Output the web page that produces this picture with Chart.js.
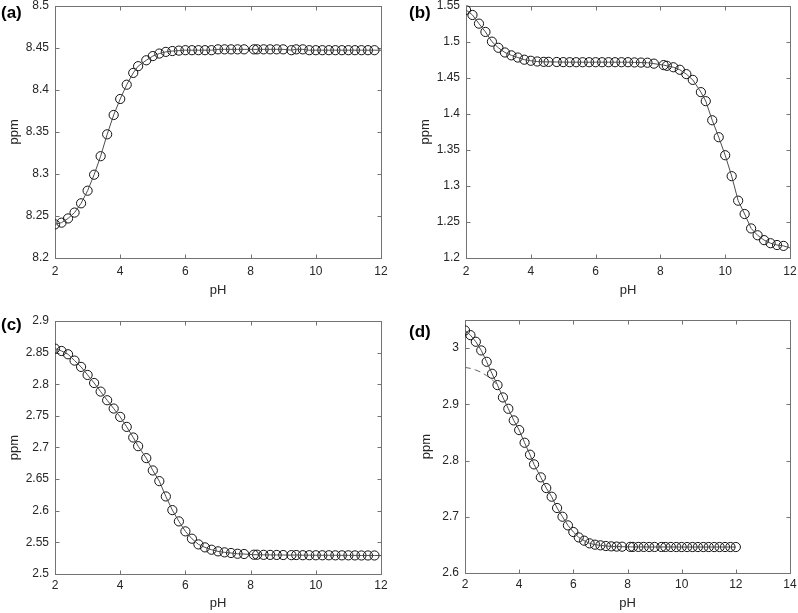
<!DOCTYPE html>
<html>
<head>
<meta charset="utf-8">
<script src="https://cdn.jsdelivr.net/npm/chart.js@4"></script>
<style>
  html, body { margin: 0; padding: 0; background: #fff; }
  body { width: 798px; height: 613px; position: relative; overflow: hidden; font-family: 'Liberation Sans', Arial, sans-serif; }
  canvas { position: absolute; }
  .tag { position: absolute; font-weight: bold; font-size: 17px; color: #000; line-height: 20px; }
</style>
</head>
<body>
<canvas id="chartA" width="399" height="300" style="left:0;top:0;width:399px;height:300px"></canvas>
<canvas id="chartB" width="399" height="300" style="left:399px;top:0;width:399px;height:300px"></canvas>
<canvas id="chartC" width="399" height="313" style="left:0;top:300px;width:399px;height:313px"></canvas>
<canvas id="chartD" width="399" height="313" style="left:399px;top:300px;width:399px;height:313px"></canvas>
<div class="tag" style="left:1px;top:3px">(a)</div>
<div class="tag" style="left:409px;top:3px">(b)</div>
<div class="tag" style="left:1px;top:315px">(c)</div>
<div class="tag" style="left:409px;top:322px">(d)</div>
<script>
// pH values of the measured points
const pH = [2.0, 2.2, 2.4, 2.6, 2.8, 3.0, 3.2, 3.4, 3.6, 3.8, 4.0, 4.2, 4.4, 4.55, 4.8, 5.0, 5.2, 5.4, 5.6, 5.8,
  6.0, 6.2, 6.4, 6.6, 6.8, 7.0, 7.2, 7.4, 7.6, 7.8, 8.1, 8.2, 8.4, 8.6, 8.8, 9.0, 9.25, 9.4, 9.6, 9.8,
  10.0, 10.2, 10.4, 10.6, 10.8, 11.0, 11.2, 11.4, 11.6, 11.8];
const pHd = pH.concat([12.0]);

// chemical shifts (ppm)
const ppmA = [8.240, 8.242, 8.247, 8.254, 8.265, 8.280, 8.299, 8.321, 8.347, 8.370, 8.389, 8.406, 8.420, 8.428, 8.435, 8.440, 8.443, 8.445, 8.446, 8.4465,
  8.447, 8.447, 8.447, 8.447, 8.447, 8.448, 8.448, 8.448, 8.448, 8.448, 8.448, 8.448, 8.448, 8.448, 8.448, 8.448, 8.447, 8.448, 8.448, 8.447,
  8.447, 8.447, 8.447, 8.447, 8.447, 8.447, 8.447, 8.447, 8.447, 8.447];
const ppmB = [1.544, 1.537, 1.525, 1.5135, 1.500, 1.4915, 1.485, 1.481, 1.478, 1.475, 1.4735, 1.4725, 1.472, 1.472, 1.4718, 1.4716, 1.4715, 1.4715, 1.4715, 1.4715,
  1.4715, 1.4715, 1.4715, 1.4715, 1.4715, 1.4715, 1.4712, 1.471, 1.4708, 1.4695, 1.4675, 1.4665, 1.4645, 1.461, 1.455, 1.447, 1.430, 1.4175, 1.391, 1.3675,
  1.3425, 1.3135, 1.2795, 1.261, 1.241, 1.2315, 1.2248, 1.2205, 1.218, 1.2168];
const ppmC = [2.8563, 2.8526, 2.8474, 2.8374, 2.8274, 2.8147, 2.802, 2.7884, 2.7747, 2.7616, 2.7484, 2.7326, 2.7158, 2.7021, 2.6832, 2.6637, 2.6468, 2.6226, 2.601, 2.5832,
  2.5674, 2.5558, 2.5468, 2.5421, 2.5384, 2.5358, 2.5342, 2.5332, 2.532, 2.5316, 2.5305, 2.5305, 2.5303, 2.5302, 2.5301, 2.53, 2.5298, 2.53, 2.5297, 2.5297,
  2.5296, 2.5296, 2.5296, 2.5295, 2.5295, 2.5295, 2.5294, 2.5293, 2.5293, 2.5293];
const ppmD = [3.0314, 3.0231, 3.0113, 2.9959, 2.9757, 2.9544, 2.9342, 2.9123, 2.8921, 2.8714, 2.8542, 2.8317, 2.8104, 2.7932, 2.7701, 2.7511, 2.7357, 2.7156, 2.7001, 2.6847,
  2.6729, 2.6633, 2.6575, 2.6527, 2.6504, 2.6492, 2.648, 2.6474, 2.647, 2.6468, 2.6465, 2.6464, 2.6464, 2.6464, 2.6463, 2.6463, 2.6463, 2.6463, 2.6463, 2.6462,
  2.6462, 2.6462, 2.6462, 2.6462, 2.6462, 2.6462, 2.6462, 2.6462, 2.6462, 2.6462, 2.6462];

// fitted curve end values at pH 12 (a-c)
const fitEndA = 8.447, fitEndB = 1.214, fitEndC = 2.5292;

// dashed curve in (d)
const dashPH = [2.0, 2.2, 2.4, 2.6, 2.8, 3.0, 3.2];
const dashPpm = [2.9656, 2.964, 2.961, 2.957, 2.951, 2.944, 2.934];

// tick labels
const xTicks = [2, 4, 6, 8, 10, 12];
const xTicksD = [2, 4, 6, 8, 10, 12, 14];
const yTicksA = [8.2, 8.25, 8.3, 8.35, 8.4, 8.45, 8.5];
const yTicksB = [1.2, 1.25, 1.3, 1.35, 1.4, 1.45, 1.5, 1.55];
const yTicksC = [2.5, 2.55, 2.6, 2.65, 2.7, 2.75, 2.8, 2.85, 2.9];
const yTicksD = [2.6, 2.7, 2.8, 2.9, 3.0];

const FONT = "'Liberation Sans', Arial, sans-serif";
const AXIS = '#737373';

// box around the plot plus inward ticks on all four sides
const boxTicks = {
    id: 'boxTicks',
    beforeDatasetsDraw(chart) {
        const {ctx, chartArea: a, scales: {x, y}} = chart;
        const L = Math.round(a.left) + 0.5, R = Math.round(a.right) + 0.5;
        const T = Math.round(a.top) + 0.5, B = Math.round(a.bottom) + 0.5;
        ctx.save();
        ctx.strokeStyle = AXIS;
        ctx.lineWidth = 1;
        ctx.strokeRect(L, T, R - L, B - T);
        ctx.beginPath();
        x.ticks.forEach(t => {
            const px = Math.round(x.getPixelForValue(t.value)) + 0.5;
            ctx.moveTo(px, B); ctx.lineTo(px, B - 4);
            ctx.moveTo(px, T); ctx.lineTo(px, T + 4);
        });
        y.ticks.forEach(t => {
            const py = Math.round(y.getPixelForValue(t.value)) + 0.5;
            ctx.moveTo(L, py); ctx.lineTo(L + 4, py);
            ctx.moveTo(R, py); ctx.lineTo(R - 4, py);
        });
        ctx.stroke();
        ctx.restore();
    }
};

function pts(xs, ys) {
    return xs.map((x, i) => ({x: x, y: ys[i]}));
}

function makePanel(id, p) {
    const datasets = [{
        data: p.line,
        showLine: true,
        borderColor: '#4d4d4d',
        borderWidth: 1,
        pointRadius: 0
    }];
    if (p.dash) {
        datasets.push({
            data: p.dash,
            showLine: true,
            borderColor: '#666',
            borderWidth: 1,
            borderDash: [6, 4],
            pointRadius: 0
        });
    }
    datasets.push({
        data: p.marks,
        showLine: false,
        pointStyle: 'circle',
        pointRadius: 4.6,
        pointBorderWidth: 1,
        pointBorderColor: '#111',
        pointBackgroundColor: 'rgba(0,0,0,0)'
    });

    new Chart(document.getElementById(id), {
        type: 'scatter',
        data: { datasets: datasets },
        options: {
            responsive: false,
            animation: false,
            events: [],
            layout: { padding: { left: 0, right: p.padRight, top: p.padTop, bottom: 0 } },
            plugins: { legend: { display: false }, tooltip: { enabled: false } },
            scales: {
                x: {
                    type: 'linear',
                    min: p.xTicks[0],
                    max: p.xTicks[p.xTicks.length - 1],
                    grid: { display: false, drawTicks: false },
                    border: { display: false },
                    afterBuildTicks: s => { s.ticks = p.xTicks.map(v => ({value: v})); },
                    afterFit: s => { s.height = p.xH; s.paddingLeft = 0; s.paddingRight = 0; },
                    ticks: {
                        autoSkip: false, maxRotation: 0, padding: p.xPad,
                        color: '#262626', font: { family: FONT, size: 12 },
                        callback: v => String(v)
                    },
                    title: {
                        display: true, text: 'pH', color: '#262626',
                        font: { family: FONT, size: 13 },
                        padding: { top: 0, bottom: p.xTitlePad }
                    }
                },
                y: {
                    type: 'linear',
                    min: p.yMin,
                    max: p.yMax,
                    grid: { display: false, drawTicks: false },
                    border: { display: false },
                    afterBuildTicks: s => { s.ticks = p.yTicks.map(v => ({value: v})); },
                    afterFit: s => { s.width = p.yW; s.paddingTop = 0; s.paddingBottom = 0; },
                    ticks: {
                        autoSkip: false, padding: 6,
                        color: '#262626', font: { family: FONT, size: 12 },
                        callback: v => String(+v.toFixed(3))
                    },
                    title: {
                        display: true, text: 'ppm', color: '#262626',
                        font: { family: FONT, size: 13 },
                        padding: { top: p.yTitlePad, bottom: 0 }
                    }
                }
            }
        },
        plugins: [boxTicks]
    });
}

makePanel('chartA', {
    marks: pts(pH, ppmA), line: pts(pH, ppmA).concat({x: 12, y: fitEndA}),
    xTicks: xTicks, yTicks: yTicksA, yMin: 8.2, yMax: 8.5,
    padTop: 5, padRight: 18, yW: 55, xH: 42, xPad: 6, xTitlePad: 2, yTitlePad: 7
});
makePanel('chartB', {
    marks: pts(pH, ppmB), line: pts(pH, ppmB).concat({x: 12, y: fitEndB}),
    xTicks: xTicks, yTicks: yTicksB, yMin: 1.2, yMax: 1.55,
    padTop: 5, padRight: 8, yW: 67, xH: 42, xPad: 6, xTitlePad: 2, yTitlePad: 19
});
makePanel('chartC', {
    marks: pts(pH, ppmC), line: pts(pH, ppmC).concat({x: 12, y: fitEndC}),
    xTicks: xTicks, yTicks: yTicksC, yMin: 2.5, yMax: 2.9,
    padTop: 21, padRight: 18, yW: 55, xH: 39, xPad: 4.5, xTitlePad: 2, yTitlePad: 7
});
makePanel('chartD', {
    marks: pts(pHd, ppmD), line: pts(pHd, ppmD), dash: pts(dashPH, dashPpm),
    xTicks: xTicksD, yTicks: yTicksD, yMin: 2.6, yMax: 3.05,
    padTop: 20, padRight: 8, yW: 66, xH: 40, xPad: 4.5, xTitlePad: 2, yTitlePad: 20
});
</script>
</body>
</html>
